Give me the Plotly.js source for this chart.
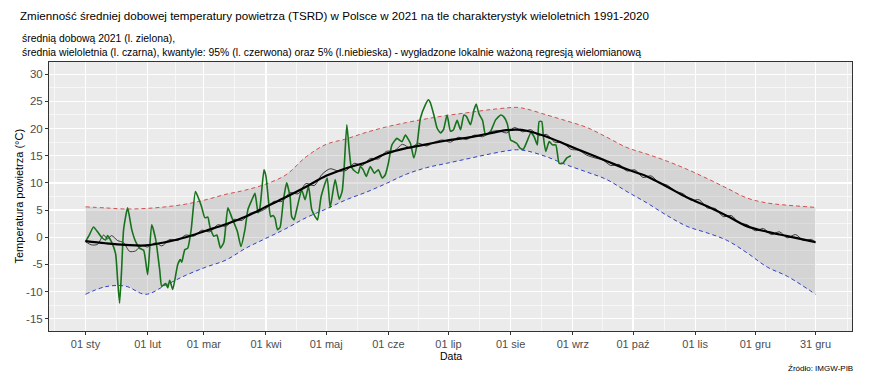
<!DOCTYPE html>
<html>
<head>
<meta charset="utf-8">
<script src="https://cdn.plot.ly/plotly-3.0.1.min.js"></script>
<style>html,body{margin:0;padding:0;background:#fff}#chart{width:876px;height:375px}</style>
</head>
<body>
<div id="chart"></div>
<script>
// ---- data (day of year: 0 = 1 Jan 2021) ----
const tickDays = [0, 31, 59, 90, 120, 151, 181, 212, 243, 273, 304, 334, 364];
const tickLabels = ['01 sty','01 lut','01 mar','01 kwi','01 maj','01 cze','01 lip','01 sie','01 wrz','01 paź','01 lis','01 gru','31 gru'];
const minorDays = [-15.5, 15.5, 45, 74.5, 105, 135.5, 166, 196.5, 227.5, 258, 288.5, 319, 349, 380];
const yTicks = [-15, -10, -5, 0, 5, 10, 15, 20, 25, 30];
const yMinor = [-12.5, -7.5, -2.5, 2.5, 7.5, 12.5, 17.5, 22.5, 27.5];

// quantiles (smoothed) at common days
const qDays = [0,10,20,30,40,50,60,70,80,90,100,110,120,130,140,150,160,170,180,190,200,210,215,220,230,240,250,260,270,280,290,300,310,320,330,340,350,364];
const q95 = [5.6,5.4,5.2,5.3,5.6,6.1,6.9,7.9,8.7,9.8,11.5,14.8,17.1,18.1,19.3,20.3,21.1,21.8,22.4,22.9,23.4,23.8,23.9,23.6,22.5,21.4,20.2,18.4,16.5,15.3,14.0,12.5,10.8,9.0,7.2,6.3,5.9,5.5];
const q05 = [-10.5,-9.1,-9.0,-10.5,-8.8,-7.0,-5.5,-4.2,-2.0,-0.2,1.6,3.6,5.2,6.9,8.3,9.9,11.6,12.8,13.6,14.4,15.2,15.9,16.1,15.9,14.8,13.3,12.0,10.6,8.4,6.3,4.0,2.0,0.8,-0.6,-2.9,-5.5,-7.2,-10.5];
// smoothed long-term mean
const meanSmooth = [-0.7,-1.1,-1.4,-1.5,-0.9,0.0,1.2,2.4,3.8,5.6,7.4,9.3,11.3,12.7,13.8,15.4,16.4,17.1,17.8,18.3,19.0,19.7,19.8,19.6,18.5,17.0,15.5,14.0,12.5,11.2,9.3,7.3,5.7,3.9,2.0,1.0,0.2,-0.9];

// raw long-term daily mean (thin black)
const climDays = [0,3,6,9,11,13,16,19,22,25,28,31,35,38,42,46,50,54,58,62,66,70,74,78,82,86,90,94,98,102,106,110,114,118,122,126,130,134,138,142,146,150,154,158,162,166,170,174,178,182,186,190,194,198,202,206,210,214,218,222,226,230,234,238,242,246,250,254,258,262,266,270,274,278,282,286,290,294,298,302,306,310,314,318,322,326,330,334,338,342,346,350,354,358,362,364];
const climVals = [-0.8,-1.4,-1.3,0.4,-0.3,0.3,-0.6,-1.0,-2.6,-2.5,-1.5,-1.8,-1.0,-1.6,-0.4,-0.6,0.4,0.2,1.3,1.0,2.3,2.0,3.3,3.1,4.4,4.6,5.3,6.6,6.6,8.2,8.0,9.9,9.5,11.6,12.6,12.2,12.3,13.6,13.2,14.5,14.4,15.8,15.9,17.1,16.4,17.3,16.8,17.5,17.9,17.5,18.4,18.0,18.8,18.5,19.4,19.6,19.2,20.2,19.4,19.8,18.7,18.9,17.5,17.4,16.2,16.0,15.1,14.6,14.2,13.2,13.4,12.2,12.4,11.0,11.3,10.0,9.6,8.5,8.0,6.8,6.9,5.4,5.3,3.8,4.0,2.6,2.3,1.2,1.6,0.5,1.0,-0.1,0.5,-0.6,-0.4,-1.0];

// daily mean 2021 (green), read at turning points
const d2021Days = [0,2,4,6,8,10,11,13,15,16,17,18,19,21,23,25,27,29,31,33,35,37,38,40,41,42,43.5,46,47.3,48,49.5,51,52.7,54.8,56,57.8,59.5,61,62,64,65.5,67.3,69,71,73,75.7,77.5,79.5,81,83,84.5,85.3,86,87,89,90,91.2,92.3,93.5,94.5,95.7,97,98.7,100.3,102,102.8,104,105.3,107.8,109.5,111.2,112.8,114.5,115.7,117.5,120.5,122,124.5,126.5,128,129,130.3,131.5,132.5,134.5,136,137,138.5,140,142,144,146,148,149.5,151,152.8,155.3,157.8,159.5,162,163.7,165.3,167,169.5,171,172,173.7,175.3,177,178.5,180.3,182,183.5,185.3,187,188.7,190,192,193.7,194.8,196.2,198,199.5,202,204.5,207,208.5,210.3,212,213.5,215,216.7,218.3,220,222,223.7,225.3,226.2,227.5,228.3,229.5,231.2,232.8,234.5,236.2,238,240,242];
const d2021Vals = [-0.8,0.5,1.9,1.0,0.0,-0.5,0.3,-0.9,-3.0,-7.8,-12.1,-6.0,1.4,5.4,1.5,-0.8,-2.0,-2.4,-6.9,2.3,-0.4,-6.0,-9.0,-8.5,-9.3,-7.9,-9.6,-5.0,-4.1,-4.6,-2.3,-2.0,1.4,8.4,7.5,5.7,3.6,3.7,2.0,0.2,0.4,-2.0,-0.9,5.4,3.6,1.1,-1.7,1.4,5.1,6.9,8.1,6.3,4.5,5.5,12.4,11.2,6.9,3.8,4.0,3.5,1.4,1.8,6.9,10.0,7.5,3.8,3.2,5.1,8.7,6.9,9.4,5.1,3.8,3.2,7.5,10.9,5.5,10.6,7.0,8.5,13.0,20.7,16.0,13.0,12.1,11.8,13.0,12.4,11.2,13.0,11.8,12.4,10.9,11.5,13.6,17.0,18.2,17.6,18.8,17.3,14.6,17.0,21.9,24.4,25.3,24.7,22.5,20.1,19.2,19.8,22.5,19.5,19.8,21.5,19.8,22.5,22.2,20.7,23.4,24.5,22.7,21.5,18.8,19.5,21.6,22.5,22.2,20.9,17.9,17.6,17.3,16.4,16.2,17.5,19.2,18.5,17.0,21.3,21.3,18.5,15.8,17.6,17.0,17.0,13.6,13.6,14.6,15.0];

// ---- traces ----
const traces = [
  {x: qDays, y: q05, mode: 'lines', line: {width: 0, color: 'rgba(0,0,0,0)', shape: 'spline', smoothing: 1}, hoverinfo: 'skip', showlegend: false},
  {x: qDays, y: q95, mode: 'lines', line: {width: 0, color: 'rgba(0,0,0,0)', shape: 'spline', smoothing: 1}, fill: 'tonexty', fillcolor: 'rgba(160,160,160,0.3)', hoverinfo: 'skip', showlegend: false},
  {x: qDays, y: q95, mode: 'lines', line: {color: '#D05050', width: 1, dash: '4px,3px', shape: 'spline', smoothing: 1}, name: 'kwantyl 95%'},
  {x: qDays, y: q05, mode: 'lines', line: {color: '#3040C8', width: 1, dash: '4px,3px', shape: 'spline', smoothing: 1}, name: 'kwantyl 5%'},
  {x: climDays, y: climVals, mode: 'lines', line: {color: '#111', width: 0.8, shape: 'spline', smoothing: 0.8}, name: 'średnia wieloletnia (dzienna)'},
  {x: d2021Days, y: d2021Vals, mode: 'lines', line: {color: '#17721C', width: 1.6, shape: 'spline', smoothing: 0.5}, name: 'średnia dobowa 2021'},
  {x: qDays, y: meanSmooth, mode: 'lines', line: {color: '#000', width: 2.2, shape: 'spline', smoothing: 1}, name: 'średnia wieloletnia'}
];

const layout = {
  width: 876, height: 375,
  paper_bgcolor: '#fff', plot_bgcolor: '#EBEBEB',
  margin: {l: 49, r: 24, t: 62, b: 43.5},
  showlegend: false,
  font: {family: 'Liberation Sans, Arial, sans-serif', color: '#000'},
  title: {
    text: 'Zmienność średniej dobowej temperatury powietrza (TSRD) w Polsce w 2021 na tle charakterystyk wieloletnich 1991-2020',
    font: {size: 11.6, color: '#000'},
    x: 20/876, xanchor: 'left', xref: 'container',
    y: 1 - 16/375, yanchor: 'middle', yref: 'container'
  },
  xaxis: {
    range: [-18.2, 382.2], tickmode: 'array', tickvals: tickDays, ticktext: tickLabels,
    showgrid: true, gridcolor: '#fff', gridwidth: 1.2, zeroline: false,
    ticks: 'outside', ticklen: 2.5, tickcolor: '#333', tickwidth: 1,
    tickfont: {size: 11, color: '#4D4D4D'},
    showline: true, mirror: true, linecolor: '#333', linewidth: 1,
    minor: {tickmode: 'array', tickvals: minorDays, showgrid: true, gridcolor: '#fff', gridwidth: 0.6, ticks: ''},
    title: {text: ''}
  },
  yaxis: {
    range: [-17.25, 32.25], tickmode: 'array', tickvals: yTicks,
    ticktext: yTicks.map(String),
    showgrid: true, gridcolor: '#fff', gridwidth: 1.2, zeroline: false,
    ticks: 'outside', ticklen: 3, tickcolor: '#333', tickwidth: 1,
    tickfont: {size: 11.5, color: '#4D4D4D'},
    showline: true, mirror: true, linecolor: '#333', linewidth: 1,
    minor: {tickmode: 'array', tickvals: yMinor, showgrid: true, gridcolor: '#fff', gridwidth: 0.6, ticks: ''},
    title: {text: ''}
  },
  annotations: [
    {text: 'średnią dobową 2021 (l. zielona),', xref: 'paper', yref: 'paper', x: 0, y: 1, xshift: -29, yshift: 24, xanchor: 'left', yanchor: 'middle', showarrow: false, font: {size: 10.4, color: '#000'}},
    {text: 'średnia wieloletnia (l. czarna), kwantyle: 95% (l. czerwona) oraz 5% (l.niebieska) - wygładzone lokalnie ważoną regresją wielomianową', xref: 'paper', yref: 'paper', x: 0, y: 1, xshift: -29, yshift: 10, xanchor: 'left', yanchor: 'middle', showarrow: false, font: {size: 10.4, color: '#000'}},
    {text: 'Temperatura powietrza (°C)', xref: 'paper', yref: 'paper', x: 0, y: 0.5, xshift: -31, xanchor: 'center', yanchor: 'middle', textangle: -90, showarrow: false, font: {size: 11, color: '#000'}},
    {text: 'Data', xref: 'paper', yref: 'paper', x: 0.5, y: 0, yshift: -25, xanchor: 'center', yanchor: 'middle', showarrow: false, font: {size: 10.5, color: '#000'}},
    {text: 'Źródło: IMGW-PIB', xref: 'paper', yref: 'paper', x: 1, y: 0, xshift: 3, yshift: -37, xanchor: 'right', yanchor: 'middle', showarrow: false, font: {size: 8, color: '#000'}}
  ]
};

Plotly.newPlot('chart', traces, layout, {displayModeBar: false, staticPlot: true});
</script>
</body>
</html>
